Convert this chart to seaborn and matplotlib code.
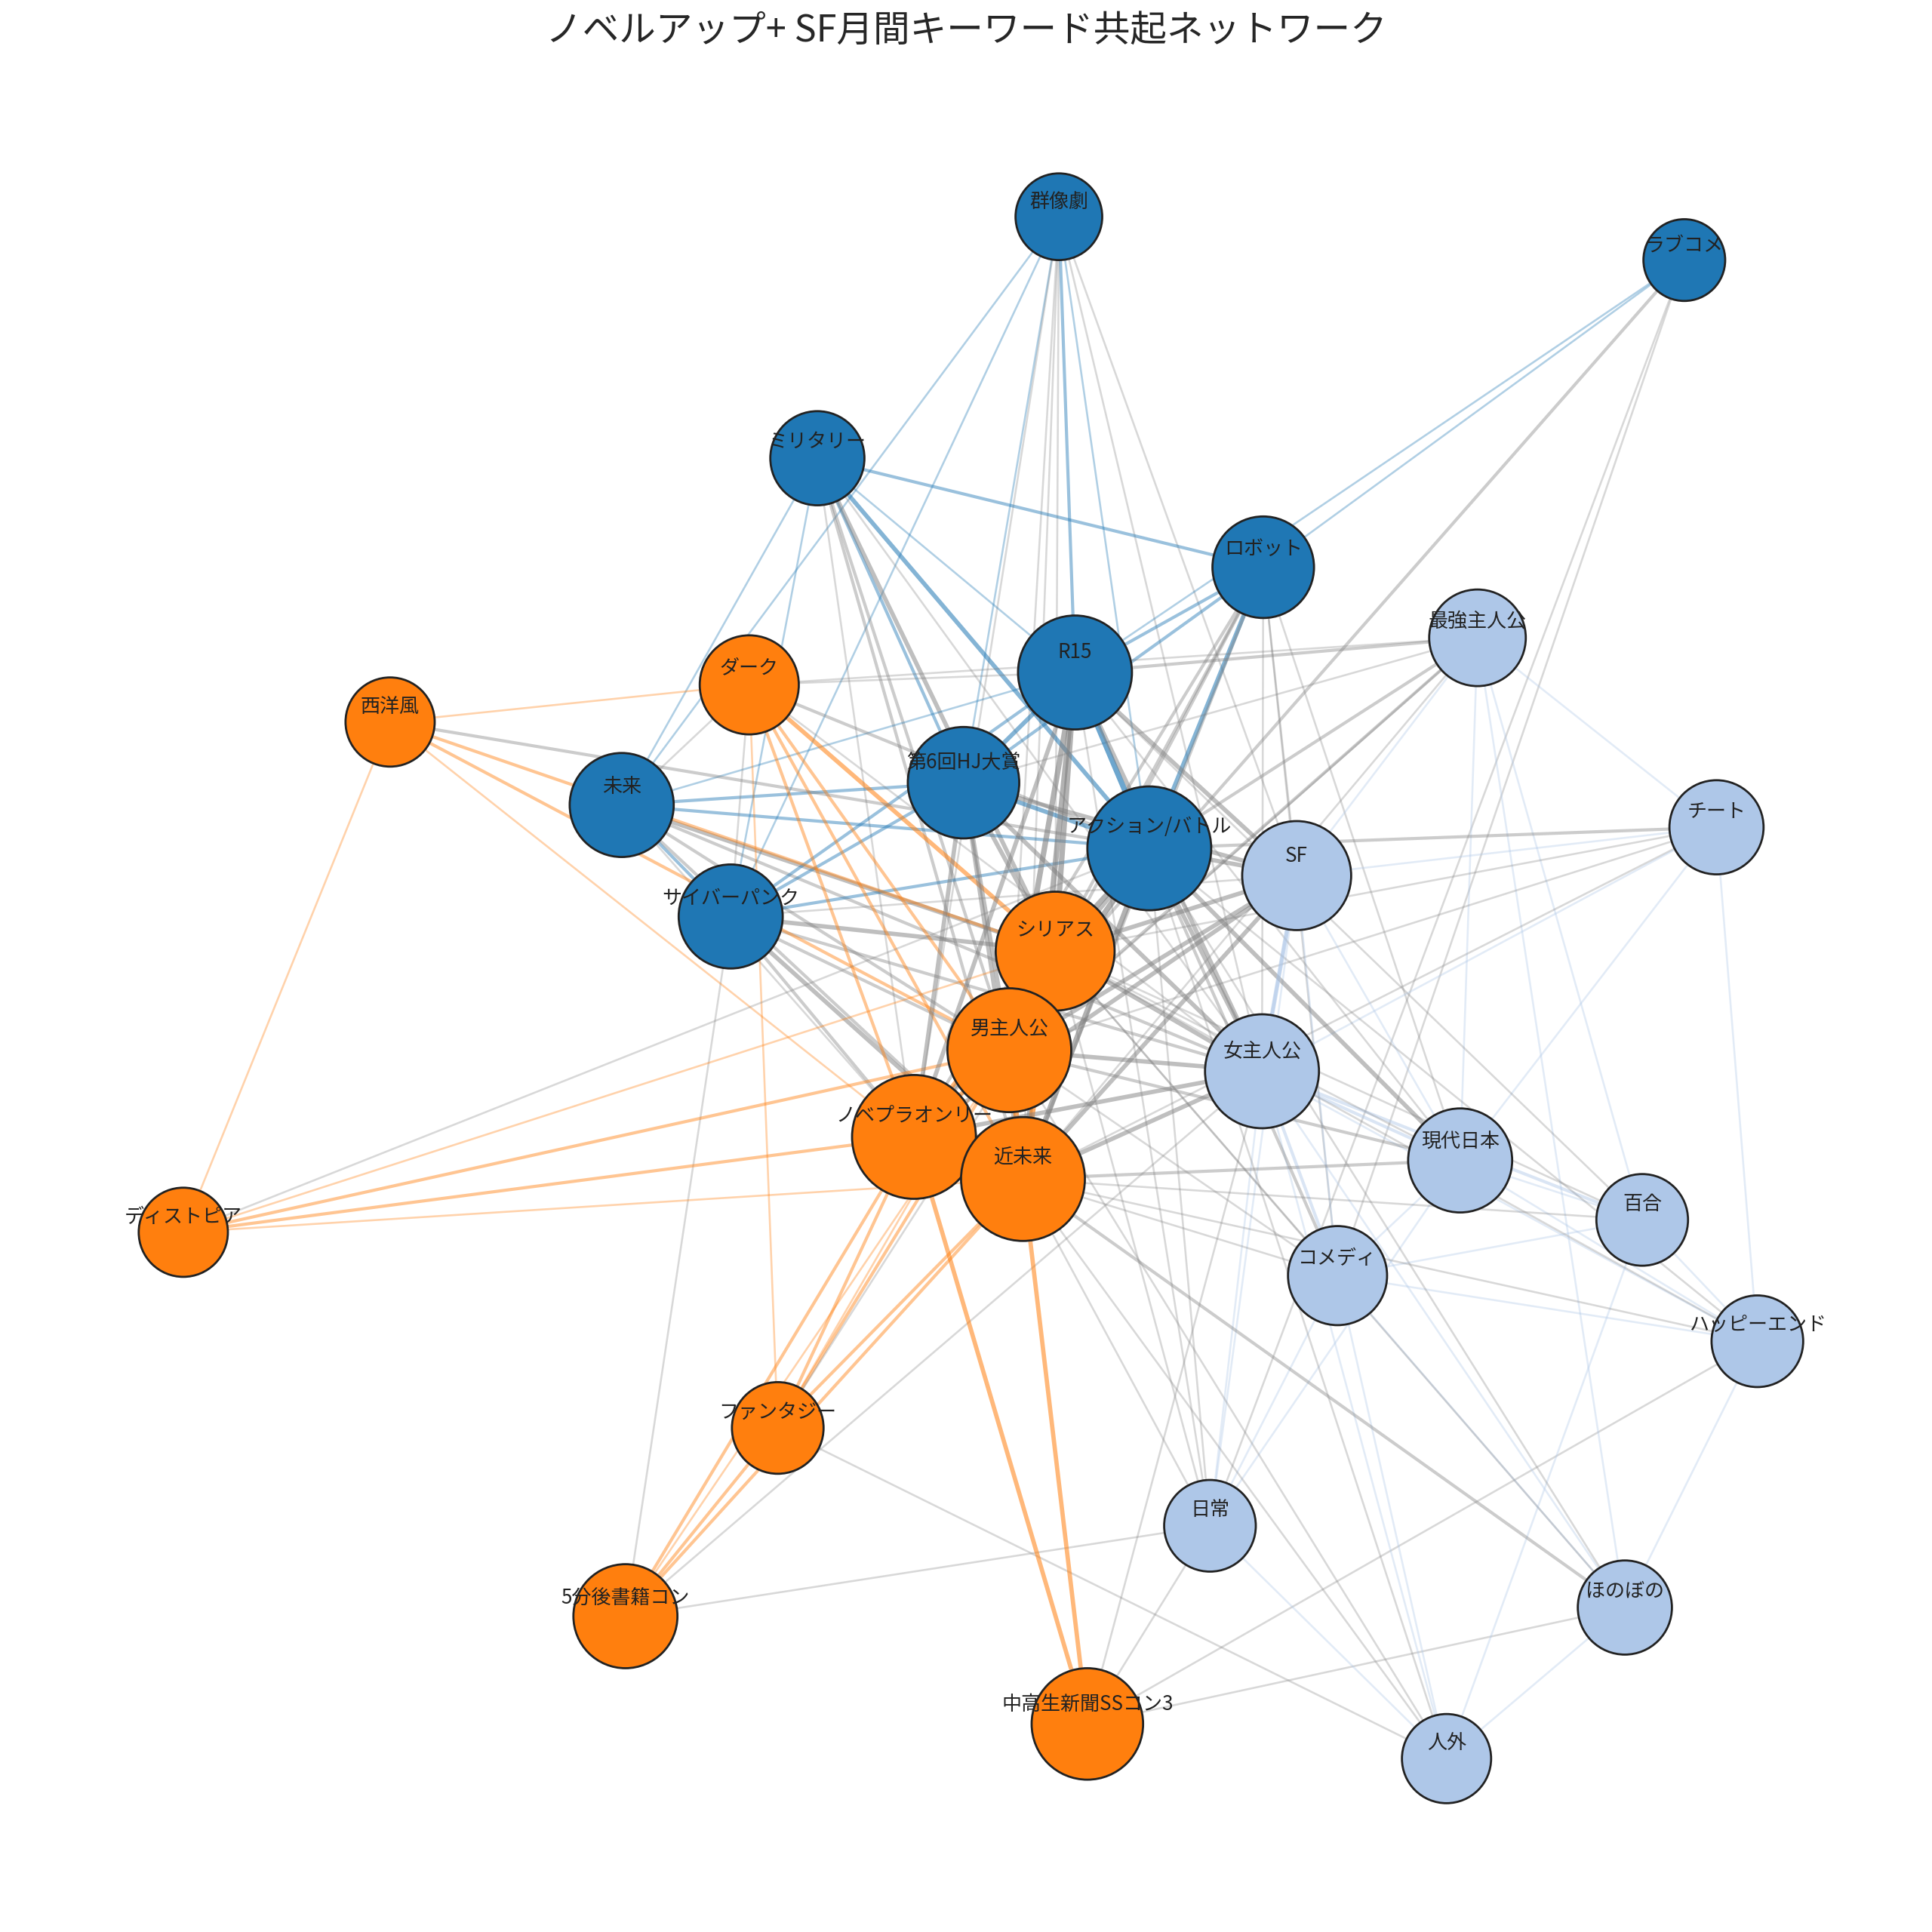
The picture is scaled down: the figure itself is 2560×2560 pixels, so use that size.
import numpy as np
import matplotlib
matplotlib.use("Agg")
import matplotlib.pyplot as plt
import seaborn as sns

sns.set_theme(style="white")
plt.rcParams['font.family'] = ['Noto Sans CJK JP', 'DejaVu Sans']

# node data: name, community, x, y (layout coords), radius (layout units)
names = ['群像劇', 'ラブコメ', 'ミリタリー', 'ロボット', 'R15', '第6回HJ大賞', '未来', 'アクション/バトル', 'サイバーパンク',
         'ダーク', '西洋風', 'シリアス', '男主人公', 'ノベプラオンリー', '近未来', 'ディストピア', 'ファンタジー', '5分後書籍コン', '中高生新聞SSコン3',
         '最強主人公', 'チート', 'SF', '女主人公', '現代日本', '百合', 'コメディ', 'ハッピーエンド', '日常', 'ほのぼの', '人外']
community = [0]*9 + [1]*10 + [2]*11
xs = [855, 1360, 660, 1020, 868, 778, 502, 928, 590,
      605, 315, 852, 815, 738, 826, 148, 628, 505, 878,
      1193, 1386, 1047, 1019, 1179, 1326, 1080, 1419, 977, 1312, 1168]
ys = [175, 210, 370, 458, 543, 632, 650, 685, 740,
      553, 583, 768, 848, 918, 952, 995, 1153, 1305, 1392,
      515, 668, 707, 865, 937, 985, 1030, 1083, 1232, 1298, 1420]
radii = [35, 33, 38, 41, 46, 45, 42, 50, 42,
         40, 36, 48, 50, 50, 50, 36, 37, 42, 45,
         39, 38, 44, 46, 42, 37, 40, 37, 37, 38, 36]

hubs = ['アクション/バトル', 'R15', '第6回HJ大賞', 'シリアス', '男主人公', 'ノベプラオンリー', '近未来', '女主人公', 'SF']
hub_w = [4, 4, 3, 4, 4, 3, 4, 3, 3]

# explicit peripheral edges: (a, b, weight 1-5)
edges = [
    ('群像劇', 'R15', 2), ('群像劇', 'アクション/バトル', 1), ('群像劇', '第6回HJ大賞', 1), ('群像劇', 'シリアス', 1),
    ('群像劇', '男主人公', 1), ('群像劇', '近未来', 1), ('群像劇', '未来', 1), ('群像劇', 'SF', 1), ('群像劇', 'ノベプラオンリー', 1),
    ('群像劇', '女主人公', 1), ('群像劇', 'サイバーパンク', 1),
    ('ラブコメ', 'R15', 1), ('ラブコメ', 'ロボット', 1), ('ラブコメ', 'ノベプラオンリー', 2), ('ラブコメ', '日常', 1), ('ラブコメ', 'コメディ', 1),
    ('ミリタリー', 'ロボット', 2), ('ミリタリー', 'アクション/バトル', 3), ('ミリタリー', '第6回HJ大賞', 2), ('ミリタリー', 'R15', 1),
    ('ミリタリー', 'シリアス', 3), ('ミリタリー', '男主人公', 2), ('ミリタリー', '近未来', 2), ('ミリタリー', '未来', 1), ('ミリタリー', 'サイバーパンク', 1),
    ('ミリタリー', '女主人公', 1), ('ミリタリー', 'ノベプラオンリー', 1),
    ('ロボット', 'R15', 2), ('ロボット', 'アクション/バトル', 3), ('ロボット', '第6回HJ大賞', 2), ('ロボット', 'シリアス', 2),
    ('ロボット', '男主人公', 2), ('ロボット', '近未来', 2), ('ロボット', 'ノベプラオンリー', 2), ('ロボット', 'SF', 1), ('ロボット', '女主人公', 1),
    ('ロボット', '現代日本', 1), ('ロボット', 'コメディ', 1),
    ('未来', 'アクション/バトル', 2), ('未来', '第6回HJ大賞', 2), ('未来', 'R15', 1), ('未来', 'サイバーパンク', 2), ('未来', 'シリアス', 3),
    ('未来', '男主人公', 2), ('未来', '近未来', 2), ('未来', 'ノベプラオンリー', 1), ('未来', 'ダーク', 1), ('未来', '女主人公', 2),
    ('サイバーパンク', 'アクション/バトル', 2), ('サイバーパンク', '第6回HJ大賞', 2), ('サイバーパンク', 'R15', 2), ('サイバーパンク', 'シリアス', 3),
    ('サイバーパンク', '男主人公', 2), ('サイバーパンク', '近未来', 3), ('サイバーパンク', 'ノベプラオンリー', 2), ('サイバーパンク', 'ダーク', 1),
    ('サイバーパンク', '女主人公', 2), ('サイバーパンク', '5分後書籍コン', 1), ('サイバーパンク', 'SF', 1),
    ('ダーク', 'R15', 1), ('ダーク', 'アクション/バトル', 2), ('ダーク', 'シリアス', 3), ('ダーク', '男主人公', 2), ('ダーク', 'ノベプラオンリー', 2),
    ('ダーク', '近未来', 2), ('ダーク', 'ファンタジー', 1), ('ダーク', '西洋風', 1), ('ダーク', '女主人公', 1), ('ダーク', '最強主人公', 1),
    ('西洋風', 'シリアス', 2), ('西洋風', '男主人公', 2), ('西洋風', 'アクション/バトル', 2), ('西洋風', 'ディストピア', 1), ('西洋風', 'ノベプラオンリー', 1),
    ('ディストピア', 'ノベプラオンリー', 2), ('ディストピア', '男主人公', 2), ('ディストピア', '近未来', 1), ('ディストピア', 'シリアス', 1),
    ('ディストピア', 'アクション/バトル', 1),
    ('ファンタジー', 'ノベプラオンリー', 2), ('ファンタジー', '男主人公', 2), ('ファンタジー', '近未来', 2), ('ファンタジー', 'シリアス', 1),
    ('ファンタジー', '5分後書籍コン', 2), ('ファンタジー', '人外', 1), ('ファンタジー', 'アクション/バトル', 1),
    ('5分後書籍コン', 'ノベプラオンリー', 2), ('5分後書籍コン', '近未来', 2), ('5分後書籍コン', '男主人公', 1), ('5分後書籍コン', '日常', 1),
    ('5分後書籍コン', '女主人公', 1),
    ('中高生新聞SSコン3', 'ノベプラオンリー', 3), ('中高生新聞SSコン3', '近未来', 3), ('中高生新聞SSコン3', '日常', 1), ('中高生新聞SSコン3', 'ほのぼの', 1),
    ('中高生新聞SSコン3', 'ハッピーエンド', 1), ('中高生新聞SSコン3', '女主人公', 1),
    ('最強主人公', 'アクション/バトル', 2), ('最強主人公', 'R15', 2), ('最強主人公', '男主人公', 2), ('最強主人公', 'SF', 1), ('最強主人公', '近未来', 1),
    ('最強主人公', 'チート', 1), ('最強主人公', '現代日本', 1), ('最強主人公', '第6回HJ大賞', 1), ('最強主人公', 'ノベプラオンリー', 1),
    ('最強主人公', '百合', 1), ('最強主人公', 'ほのぼの', 1),
    ('チート', 'アクション/バトル', 2), ('チート', '男主人公', 1), ('チート', 'SF', 1), ('チート', '近未来', 1), ('チート', '女主人公', 1),
    ('チート', '現代日本', 1), ('チート', 'ハッピーエンド', 1), ('チート', 'シリアス', 1),
    ('SF', '女主人公', 2), ('SF', '現代日本', 1), ('SF', 'コメディ', 1), ('SF', '日常', 1),
    ('女主人公', '現代日本', 2), ('女主人公', '百合', 2), ('女主人公', 'コメディ', 2), ('女主人公', 'ハッピーエンド', 1), ('女主人公', '日常', 1),
    ('女主人公', 'ほのぼの', 1), ('女主人公', '人外', 1),
    ('現代日本', 'アクション/バトル', 3), ('現代日本', '近未来', 2), ('現代日本', '男主人公', 2), ('現代日本', 'シリアス', 1), ('現代日本', '百合', 1),
    ('現代日本', 'コメディ', 1), ('現代日本', '日常', 1), ('現代日本', 'ハッピーエンド', 1), ('現代日本', 'R15', 1),
    ('百合', '近未来', 1), ('百合', 'シリアス', 1), ('百合', 'コメディ', 1), ('百合', 'ハッピーエンド', 1), ('百合', '人外', 1), ('百合', 'R15', 1),
    ('コメディ', 'アクション/バトル', 2), ('コメディ', '近未来', 1), ('コメディ', '男主人公', 1), ('コメディ', '日常', 1), ('コメディ', 'ほのぼの', 1),
    ('コメディ', '人外', 1), ('コメディ', 'ハッピーエンド', 1), ('コメディ', 'シリアス', 1),
    ('ハッピーエンド', '近未来', 1), ('ハッピーエンド', 'アクション/バトル', 1), ('ハッピーエンド', 'ほのぼの', 1), ('ハッピーエンド', 'シリアス', 1),
    ('日常', 'R15', 1), ('日常', 'アクション/バトル', 1), ('日常', '近未来', 1), ('日常', 'シリアス', 1), ('日常', '人外', 1),
    ('ほのぼの', '近未来', 2), ('ほのぼの', 'アクション/バトル', 1), ('ほのぼの', '人外', 1), ('ほのぼの', 'シリアス', 1),
    ('人外', '男主人公', 1), ('人外', 'アクション/バトル', 1), ('人外', '近未来', 1),
]
for i in range(len(hubs)):
    for j in range(i + 1, len(hubs)):
        edges.append((hubs[i], hubs[j], min(hub_w[i], hub_w[j])))

comm_colors = ['#1f77b4', '#ff7f0e', '#aec7e8']
edge_comm_colors = ['#1f77b4', '#ff7f0e', '#aec7e8']

idx = {n: i for i, n in enumerate(names)}

fig = plt.figure(figsize=(10.24, 10.24), dpi=250)
ax = fig.add_axes([0, 0, 1, 1])
ax.set_xlim(0, 1560)
ax.set_ylim(1560, 0)
ax.set_axis_off()

for a, b, w in edges:
    i, j = idx[a], idx[b]
    if community[i] == community[j]:
        c = edge_comm_colors[community[i]]
        alpha = 0.25 + 0.1 * w
    else:
        c = '#808080'
        alpha = 0.2 + 0.1 * w
    ax.plot([xs[i], xs[j]], [ys[i], ys[j]], color=c, lw=0.3 + 0.45 * w, alpha=alpha, zorder=1)

# convert radius (layout units) to scatter size (points^2)
k = 2560 / 1560 / 250 * 72
sizes = [(2 * r * k) ** 2 for r in radii]
sns.scatterplot(x=xs, y=ys, s=sizes, c=[comm_colors[c] for c in community],
                edgecolor='#222222', linewidth=0.8, ax=ax, zorder=2, legend=False)

for n, x, y, r in zip(names, xs, ys, radii):
    ax.text(x, y - r * 0.35, n, ha='center', va='center', fontsize=7.5, color='#222222', zorder=3)

fig.text(0.5, 1 - 25 / 1560, 'ノベルアップ+ SF月間キーワード共起ネットワーク', ha='center', va='center', fontsize=14)

fig.savefig('out.png', dpi=250)
